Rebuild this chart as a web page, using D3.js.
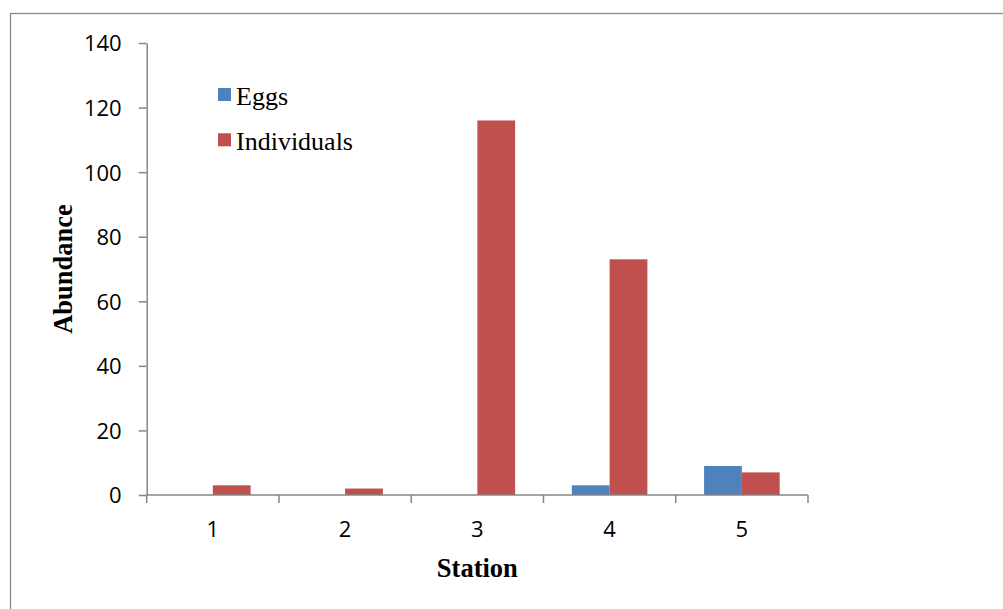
<!DOCTYPE html>
<html><head><meta charset="utf-8">
<script src="https://cdn.jsdelivr.net/npm/d3@7"></script>
<style>body{margin:0;background:#fff}svg{display:block}</style>
</head><body>
<script>
const categories = ["1","2","3","4","5"];
const seriesNames = ["Eggs","Individuals"];
const eggs = [0,0,0,3,9];
const individuals = [3,2,116,73,7];
const yTicks = [0,20,40,60,80,100,120,140];
const colors = ["#4F81BD","#C0504D"];

(function(){
const W=1003,H=609;
const svg=d3.select("body").append("svg").attr("width",W).attr("height",H);
svg.append("rect").attr("x",10.5).attr("y",13.5).attr("width",1000).attr("height",600)
  .attr("fill","#fff").attr("stroke","#888").attr("stroke-width",1.3);

const pL=146.7,pR=808,pT=43,pB=495;
const y=d3.scaleLinear().domain([0,140]).range([pB,pT]);
const x0=d3.scaleBand().domain(categories).range([pL,pR]).padding(0);
const x1=d3.scaleBand().domain(seriesNames).range([0,x0.bandwidth()]).paddingInner(0).paddingOuter(0.75);
const values={Eggs:eggs,Individuals:individuals};

seriesNames.forEach((s,si)=>{
  svg.append("g").selectAll("rect").data(categories).join("rect")
    .attr("x",(c)=>x0(c)+x1(s))
    .attr("width",x1.bandwidth())
    .attr("y",(c,i)=>y(values[s][i]))
    .attr("height",(c,i)=>pB-y(values[s][i]))
    .attr("fill",colors[si]);
});

const axisColor="#868686";
const ya=svg.append("g").attr("transform",`translate(${pL},0)`)
  .call(d3.axisLeft(y).tickValues(yTicks).tickSize(8).tickSizeOuter(0).tickPadding(17));
ya.select(".domain").attr("stroke",axisColor).attr("stroke-width",1.5);
ya.selectAll(".tick line").attr("stroke",axisColor).attr("stroke-width",1.5);
ya.selectAll(".tick text").attr("font-family","'Open Sans', 'Liberation Sans', sans-serif")
  .attr("font-size",22).attr("fill","#000").attr("dy","0.36em");

const xa=svg.append("g").attr("transform",`translate(0,${pB})`)
  .call(d3.axisBottom(x0).tickSize(0).tickPadding(0));
xa.select(".domain").remove();
xa.selectAll(".tick text").attr("font-family","'Open Sans', 'Liberation Sans', sans-serif")
  .attr("font-size",22).attr("fill","#000").attr("y",42).attr("dy",0);
svg.append("line").attr("x1",pL).attr("x2",pR).attr("y1",pB).attr("y2",pB)
  .attr("stroke",axisColor).attr("stroke-width",1.5);
const bounds=categories.map(c=>x0(c)).concat([x0(categories[categories.length-1])+x0.bandwidth()]);
svg.append("g").selectAll("line").data(bounds).join("line")
  .attr("x1",d=>d).attr("x2",d=>d).attr("y1",pB).attr("y2",pB+8)
  .attr("stroke",axisColor).attr("stroke-width",1.5);

svg.append("text").attr("x",(pL+pR)/2).attr("y",577).attr("text-anchor","middle")
  .attr("font-family","'Liberation Serif', 'Times New Roman', serif").attr("font-weight","bold")
  .attr("font-size",26.5).text("Station");
svg.append("text").attr("transform",`translate(72,${(pT+pB)/2}) rotate(-90)`).attr("text-anchor","middle")
  .attr("font-family","'Liberation Serif', 'Times New Roman', serif").attr("font-weight","bold")
  .attr("font-size",26.5).text("Abundance");

const lg=svg.append("g").selectAll("g").data(seriesNames).join("g")
  .attr("transform",(d,i)=>`translate(218,${88+i*45.3})`);
lg.append("rect").attr("width",13).attr("height",13).attr("fill",(d,i)=>colors[i]);
lg.append("text").attr("x",18).attr("y",17).attr("font-family","'Liberation Serif', 'Times New Roman', serif")
  .attr("font-size",26).attr("fill","#000").text(d=>d);
})();
</script>
</body></html>
